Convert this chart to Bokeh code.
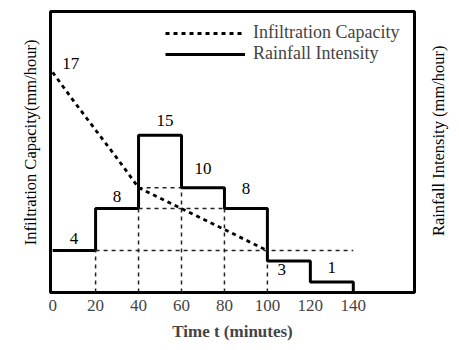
import math
from bokeh.plotting import figure
from bokeh.layouts import row
from bokeh.models import (FixedTicker, Legend, LegendItem,
                          ColumnDataSource, Range1d)
from bokeh.core.properties import value
from bokeh.embed import file_html
from bokeh.resources import INLINE

# ---------------- data ----------------
t_edges = [0, 20, 40, 60, 80, 100, 120, 140]          # minutes
rain = [4, 8, 15, 10, 8, 3, 1]                          # rainfall intensity per interval
infil_t = [0, 10, 20, 30, 40, 50, 60, 70, 80, 90, 100]  # minutes
infil_f = [21.0, 18.2, 15.5, 12.8, 10.0, 9.0, 8.0, 7.0, 6.0, 5.0, 4.0]
infil_label = "17"
x_ticks = [0, 20, 40, 60, 80, 100, 120, 140]
x_title = "Time t (minutes)"
left_title = "Infiltration Capacity(mm/hour)"
right_title = "Rainfall Intensity (mm/hour)"

# ---------------- styling / layout ----------------
FONT = "Liberation Serif"
H = 350
LW, PW, RW = 48, 368, 43
lbl_dx = [0, 0, 5, 0, 0, -7, 0]
lbl_dy = [-12, -12, -15, -19, -20, 8, -15]

p = figure(width=PW, height=H, output_backend="svg", toolbar_location=None,
           x_range=Range1d(-1, 168.5), y_range=Range1d(0, 26.8),
           min_border_left=2, min_border_right=2, min_border_top=11,
           min_border_bottom=58)
p.grid.visible = False
p.outline_line_color = "black"
p.outline_line_width = 3
p.background_fill_color = "white"
p.border_fill_color = "white"

# rainfall hyetograph as a step line
rx, ry = [], []
for i, v in enumerate(rain):
    rx += [t_edges[i], t_edges[i + 1]]
    ry += [v, v]
rx.append(t_edges[-1])
ry.append(0)
rain_r = p.line(rx, ry, line_color="black", line_width=3)

# guide lines (dashed)
gxs, gys = [], []
for i in range(1, 6):
    gxs.append([t_edges[i], t_edges[i]])
    gys.append([0, min(rain[i - 1], rain[i])])
gxs.append([t_edges[1], t_edges[7]]); gys.append([rain[0], rain[0]])
gxs.append([t_edges[2], t_edges[4]]); gys.append([rain[1], rain[1]])
gxs.append([t_edges[2], t_edges[3]]); gys.append([rain[3], rain[3]])
p.multi_line(gxs, gys, line_color="#222222", line_width=1.5, line_dash="4 4")

# infiltration capacity curve
curve = p.line(infil_t, infil_f, line_color="black", line_width=2.8,
               line_dash="4 4")

# value labels
mids = [(t_edges[i] + t_edges[i + 1]) / 2 for i in range(len(rain))]
src = ColumnDataSource(dict(x=mids, y=rain, text=[str(v) for v in rain],
                            dx=lbl_dx, dy=lbl_dy))
p.text(x="x", y="y", text="text", source=src, x_offset="dx", y_offset="dy",
       text_align="center", text_baseline="middle",
       text_font=value(FONT), text_font_size="17px", text_color="black")
p.text(x=[infil_t[0]], y=[infil_f[0]], text=[infil_label], x_offset=18,
       y_offset=-9, text_align="center", text_baseline="middle",
       text_font=value(FONT), text_font_size="17px", text_color="black")

# axes
xa = p.xaxis[0]
xa.ticker = FixedTicker(ticks=x_ticks)
xa.axis_label = x_title
xa.axis_label_text_font = FONT
xa.axis_label_text_font_size = "17px"
xa.axis_label_text_font_style = "bold"
xa.axis_label_standoff = 8
xa.major_label_text_font = FONT
xa.major_label_text_font_size = "17px"
xa.major_label_standoff = 7
xa.major_tick_out = 0
xa.major_tick_in = 0
xa.minor_tick_out = 0
xa.minor_tick_in = 0
xa.axis_line_color = None
p.yaxis.visible = False

legend = Legend(items=[LegendItem(label="Infiltration Capacity", renderers=[curve]),
                       LegendItem(label="Rainfall Intensity", renderers=[rain_r])],
                location=(115, 228))
legend.border_line_color = None
legend.background_fill_alpha = 0
legend.padding = 0
legend.margin = 0
legend.spacing = 0
legend.glyph_width = 80
legend.glyph_height = 20
legend.label_height = 20
legend.label_standoff = 8
legend.label_text_font = FONT
legend.label_text_font_size = "18px"
p.add_layout(legend)


def side_title(width, text, cx, cy):
    q = figure(width=width, height=H, output_backend="svg", toolbar_location=None,
               x_range=Range1d(0, width), y_range=Range1d(0, H),
               min_border=0)
    q.axis.visible = False
    q.grid.visible = False
    q.outline_line_color = None
    q.background_fill_color = "white"
    q.border_fill_color = "white"
    q.text(x=[cx], y=[H - cy], text=[text], angle=math.pi / 2,
           text_align="center", text_baseline="middle",
           text_font=value(FONT), text_font_size="16.5px", text_color="black")
    return q


left_q = side_title(LW, left_title, 30, 163)
right_q = side_title(RW, right_title, 438 - LW - PW, 161)

layout = row(left_q, p, right_q, spacing=0)
open("out.html", "w").write(file_html(layout, INLINE))
